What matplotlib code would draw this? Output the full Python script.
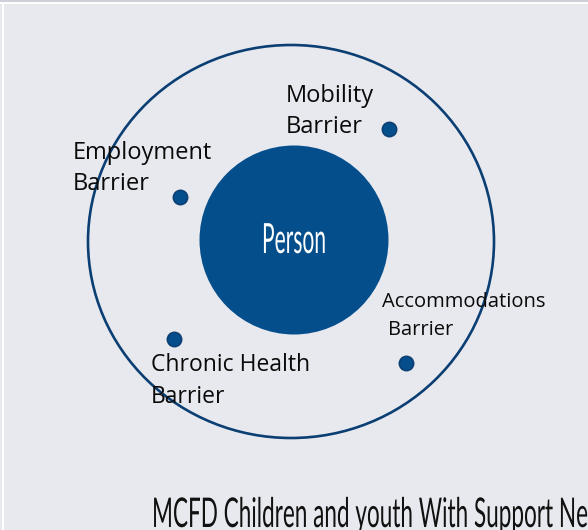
import matplotlib
matplotlib.use("Agg")
import matplotlib.pyplot as plt
from matplotlib.patches import Ellipse, Circle, Rectangle
from matplotlib.patheffects import AbstractPathEffect
from matplotlib.transforms import Affine2D

# ---- data ----
center_label = "Person"
title = "MCFD Children and youth With Support Needs"
barrier_labels = ["Mobility\nBarrier", "Employment\nBarrier",
                  "Chronic Health\nBarrier", "Accommodations\nBarrier"]
dot_x = [389, 180, 174, 406]
dot_y = [129, 197, 339, 363]

# ---- styles / layout ----
W, H = 588, 530
BG = "#e8e9ee"
DARK = "#0b3f73"
FILL = "#054e8c"
label_x = [[286, 286], [73, 73], [151, 151], [382, 388]]
label_base = [[102, 133], [159, 190], [371, 403], [307, 335]]
label_size = [17, 17, 16.5, 14.5]


class HScale(AbstractPathEffect):
    """Draw text horizontally condensed around display x0."""
    def __init__(self, sx, x0):
        super().__init__()
        self.sx = sx
        self.x0 = x0

    def draw_path(self, renderer, gc, tpath, affine, rgbFace=None):
        t = affine + Affine2D().translate(-self.x0, 0).scale(self.sx, 1).translate(self.x0, 0)
        renderer.draw_path(gc, tpath, t, rgbFace)


fig = plt.figure(figsize=(W / 100, H / 100), dpi=100)
fig.patch.set_facecolor(BG)
ax = fig.add_axes([0, 0, 1, 1])
ax.set_xlim(0, W)
ax.set_ylim(H, 0)
ax.axis("off")
ax.set_facecolor(BG)

# frame lines at top/left
ax.add_patch(Rectangle((0, 0), W, 2, color="#cdd0d9", lw=0))
ax.add_patch(Rectangle((0, 2), W, 2, color="white", lw=0))
ax.add_patch(Rectangle((2, 2), 2, H, color="white", lw=0))

# outer ring
ax.add_patch(Ellipse((291, 241.5), 406, 393, fill=False, ec=DARK, lw=1.9))
# inner person circle
ax.add_patch(Circle((294, 240), 94.5, fc=FILL, ec="none"))

# dots
ax.scatter(dot_x, dot_y, s=105, c=FILL, edgecolors=DARK, linewidths=1.2, zorder=5)

# labels
for lab, xs, bs, fs in zip(barrier_labels, label_x, label_base, label_size):
    for line, x, b in zip(lab.split("\n"), xs, bs):
        ax.text(x, b, line, fontsize=fs, family="Open Sans", color="#0a0a0a",
                ha="left", va="baseline", zorder=6)

renderer = fig.canvas.get_renderer()


def condensed_text(x, y, s, measure, target_w, size, color, ha):
    tmp = ax.text(x, y, measure, fontsize=size, family="Lato",
                  ha="left", va="baseline")
    w = tmp.get_window_extent(renderer).width
    tmp.remove()
    sx = target_w / w
    t = ax.text(x, y, s, fontsize=size, family="Lato", color=color,
                ha=ha, va="baseline", zorder=7)
    x0 = ax.transData.transform((x, y))[0]
    t.set_path_effects([HScale(sx, x0)])
    return t


condensed_text(294, 253, center_label, center_label, 64, 30, "white", "center")
condensed_text(152, 527, title, "MCFD Children and youth With Support Ne", 436, 29.5, "#111111", "left")

fig.savefig("out.png", dpi=100, facecolor=BG)
